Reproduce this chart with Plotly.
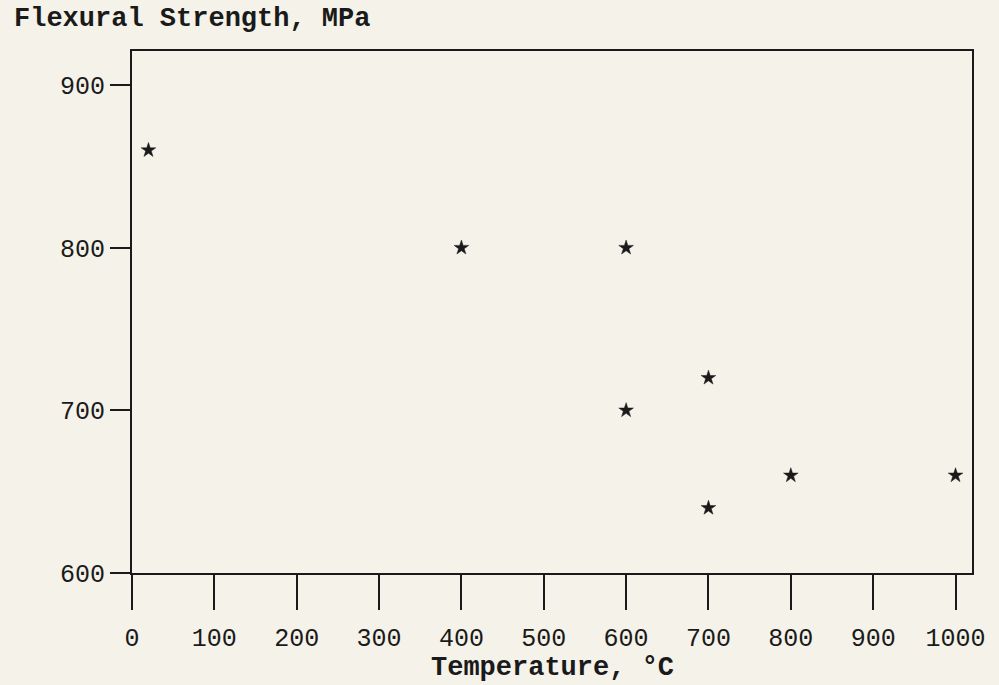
import plotly.graph_objects as go

# Flexural strength measurements versus test temperature
temperature_c = [20, 400, 600, 600, 700, 700, 800, 1000]
strength_mpa = [860, 800, 800, 700, 720, 640, 660, 660]

x_ticks = [0, 100, 200, 300, 400, 500, 600, 700, 800, 900, 1000]
y_ticks = [600, 700, 800, 900]

bg = "#f4f2e9"
ink = "#1a1a1a"
mono = "Liberation Mono"

fig = go.Figure(
    go.Scatter(
        x=temperature_c,
        y=strength_mpa,
        mode="markers",
        marker=dict(symbol="star", size=11, color=ink, line=dict(width=0.5, color=ink)),
        showlegend=False,
    )
)

axis_common = dict(
    showline=True,
    linecolor=ink,
    linewidth=2,
    mirror=True,
    ticks="outside",
    tickcolor=ink,
    tickwidth=2,
    showgrid=False,
    zeroline=False,
    tickfont=dict(family=mono, size=25, color=ink),
)

fig.update_xaxes(
    range=[0, 1020],
    tickvals=x_ticks,
    ticktext=[str(v) for v in x_ticks],
    ticklen=35,
    ticklabelstandoff=6,
    **axis_common,
)
fig.update_yaxes(
    range=[600, 921],
    tickvals=y_ticks,
    ticktext=[str(v) for v in y_ticks],
    ticklen=20,
    **axis_common,
)

fig.add_annotation(
    text="<b>Flexural Strength, MPa</b>",
    xref="paper", yref="paper",
    x=-0.1429, y=1.0613,
    xanchor="left", yanchor="middle",
    showarrow=False,
    font=dict(family=mono, size=27, color=ink),
)
fig.add_annotation(
    text="<b>Temperature, °C</b>",
    xref="paper", yref="paper",
    x=0.501, y=-0.182,
    xanchor="center", yanchor="middle",
    showarrow=False,
    font=dict(family=mono, size=27, color=ink),
)

fig.update_layout(
    width=999,
    height=685,
    margin=dict(l=132, r=27, t=51, b=112),
    paper_bgcolor=bg,
    plot_bgcolor=bg,
)

fig.write_html("out.html")
